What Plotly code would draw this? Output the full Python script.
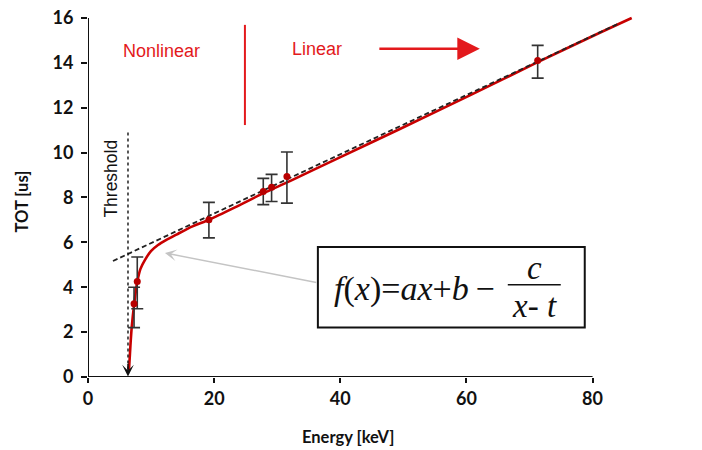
import plotly.graph_objects as go

# ---------------- data ----------------
energy_kev = [7.30, 7.81, 19.17, 27.79, 29.11, 31.54, 71.30]
tot_us = [3.26, 4.26, 7.01, 8.27, 8.46, 8.93, 14.10]
err_up = [0.74, 1.09, 0.77, 0.58, 0.57, 1.10, 0.68]
err_down = [1.06, 1.22, 0.81, 0.59, 0.64, 1.18, 0.78]

fit_energy = [6.50, 6.73, 6.93, 7.33, 7.81, 8.32, 9.04, 9.98, 11.10, 12.36, 14.11,
              16.48, 19.18, 23.30, 27.73, 32.01, 39.94, 49.45, 60.54, 71.31, 81.14, 86.21]
fit_tot = [0.31, 1.41, 2.21, 3.27, 4.24, 4.82, 5.22, 5.61, 5.88, 6.10, 6.36,
           6.70, 7.01, 7.56, 8.18, 8.73, 9.79, 11.05, 12.55, 14.03, 15.34, 16.0]

linear_energy = [3.96, 83.98]
linear_tot = [5.17, 15.73]

threshold_energy = [6.34, 6.34]
threshold_tot = [10.9, 0.35]

x_ticks = [0, 20, 40, 60, 80]
y_ticks = [0, 2, 4, 6, 8, 10, 12, 14, 16]

# ---------------- layout geometry ----------------
W, H = 702, 450
L, T_PX, B_PX = 88, 6, 377          # plot left, top, bottom (pixels)
XMAX, YMAX = 88.0, 16.4
PXK = 6.31                          # pixels per keV
PLOT_W = XMAX * PXK
PLOT_H = B_PX - T_PX


def X(px):
    return (px - L) / PXK


def Y(py):
    return (B_PX - py) / PLOT_H * YMAX


def PX(px):
    return (px - L) / PLOT_W


def PY(py):
    return (B_PX - py) / PLOT_H


RED = "#e3191c"
CURVE = "#c80000"
TICKFONT = dict(family="Lato", size=18, color="#111111", weight="bold")

fig = go.Figure()

fig.add_trace(go.Scatter(x=fit_energy, y=fit_tot, mode="lines",
                         line=dict(color=CURVE, width=2.6, shape="spline", smoothing=0.6),
                         hoverinfo="skip"))
fig.add_trace(go.Scatter(x=linear_energy, y=linear_tot, mode="lines",
                         line=dict(color="#222222", width=1.8, dash="5px,3px"),
                         hoverinfo="skip"))
fig.add_trace(go.Scatter(x=threshold_energy, y=threshold_tot, mode="lines",
                         line=dict(color="#111111", width=1.4, dash="dot"),
                         hoverinfo="skip"))
fig.add_trace(go.Scatter(x=energy_kev, y=tot_us, mode="markers",
                         marker=dict(color="#b80000", size=7),
                         error_y=dict(type="data", symmetric=False, array=err_up,
                                      arrayminus=err_down, color="#333333",
                                      thickness=1.6, width=6),
                         cliponaxis=False))

# axis lines
fig.add_shape(type="line", x0=0, x1=80, y0=0, y1=0, xref="x", yref="y",
              line=dict(color="#111111", width=2))
fig.add_shape(type="line", x0=0, x1=0, y0=0, y1=16, xref="x", yref="y",
              line=dict(color="#111111", width=2))

# region separator
fig.add_shape(type="line", x0=X(245), x1=X(245), y0=Y(123), y1=Y(22), xref="x", yref="y",
              line=dict(color=RED, width=2))

# formula box and fraction bar
fig.add_shape(type="rect", x0=X(318), x1=X(585), y0=Y(327), y1=Y(246), xref="x", yref="y",
              line=dict(color="#111111", width=2), fillcolor="white")
fig.add_shape(type="line", x0=X(508), x1=X(561), y0=Y(284), y1=Y(284), xref="x", yref="y",
              line=dict(color="#111111", width=1.5))

ann = []
ann.append(dict(x=X(128), y=Y(376.5), xref="x", yref="y", ax=0, ay=-14, showarrow=True,
                arrowhead=3, arrowsize=1.3, arrowwidth=1.5, arrowcolor="#111111", text=""))
ann.append(dict(x=X(480), y=Y(46), ax=X(378), ay=Y(46), xref="x", yref="y", axref="x", ayref="y",
                showarrow=True, arrowhead=2, arrowsize=1.8, arrowwidth=2.5, arrowcolor=RED, text=""))
ann.append(dict(x=X(165), y=Y(252), ax=X(318), ay=Y(282), xref="x", yref="y", axref="x", ayref="y",
                showarrow=True, arrowhead=3, arrowsize=1.3, arrowwidth=1.5, arrowcolor="#c4c4c4", text=""))
ann.append(dict(x=X(162), y=Y(48), xref="x", yref="y", text="Nonlinear", showarrow=False,
                font=dict(family="Liberation Sans", size=18, color=RED)))
ann.append(dict(x=X(317), y=Y(46), xref="x", yref="y", text="Linear", showarrow=False,
                font=dict(family="Liberation Sans", size=18, color=RED)))
ann.append(dict(x=X(111), y=Y(177), xref="x", yref="y", text="Threshold", showarrow=False,
                textangle=-90, font=dict(family="Liberation Sans", size=17.5, color="#111111")))
ann.append(dict(x=X(332), y=Y(288), xref="x", yref="y", xanchor="left",
                text="<i>f</i>(<i>x</i>)=<i>ax</i>+<i>b</i>\u2009\u2212", showarrow=False,
                font=dict(family="Liberation Serif", size=34, color="#111111")))
ann.append(dict(x=X(535), y=Y(267), xref="x", yref="y", text="<i>c</i>", showarrow=False,
                font=dict(family="Liberation Serif", size=33, color="#111111")))
ann.append(dict(x=X(535), y=Y(305), xref="x", yref="y", text="<i>x</i>- <i>t</i>", showarrow=False,
                font=dict(family="Liberation Serif", size=33, color="#111111")))
ann.append(dict(x=PX(348), y=PY(437), xref="paper", yref="paper", xanchor="center",
                yanchor="middle", text="Energy [keV]", showarrow=False,
                font=dict(family="Lato", size=16.5, color="#111111", weight="bold")))
ann.append(dict(x=PX(22), y=PY(200), xref="paper", yref="paper", xanchor="center",
                yanchor="middle", text="TOT [us]", showarrow=False, textangle=-90,
                font=dict(family="Lato", size=16.5, color="#111111", weight="bold")))

fig.update_layout(
    width=W, height=H,
    margin=dict(l=L, r=W - L - PLOT_W, t=T_PX, b=H - B_PX),
    plot_bgcolor="white", paper_bgcolor="white",
    showlegend=False,
    annotations=ann,
    xaxis=dict(range=[0, XMAX], tickvals=x_ticks, ticks="outside", ticklen=5, tickwidth=2,
               tickcolor="#111111", showline=False, showgrid=False, zeroline=False,
               tickfont=TICKFONT),
    yaxis=dict(range=[0, YMAX], tickvals=y_ticks, ticks="outside", ticklen=6, tickwidth=2,
               tickcolor="#111111", showline=False, showgrid=False, zeroline=False,
               tickfont=TICKFONT, ticklabelstandoff=4),
)

fig.write_html("out.html")
